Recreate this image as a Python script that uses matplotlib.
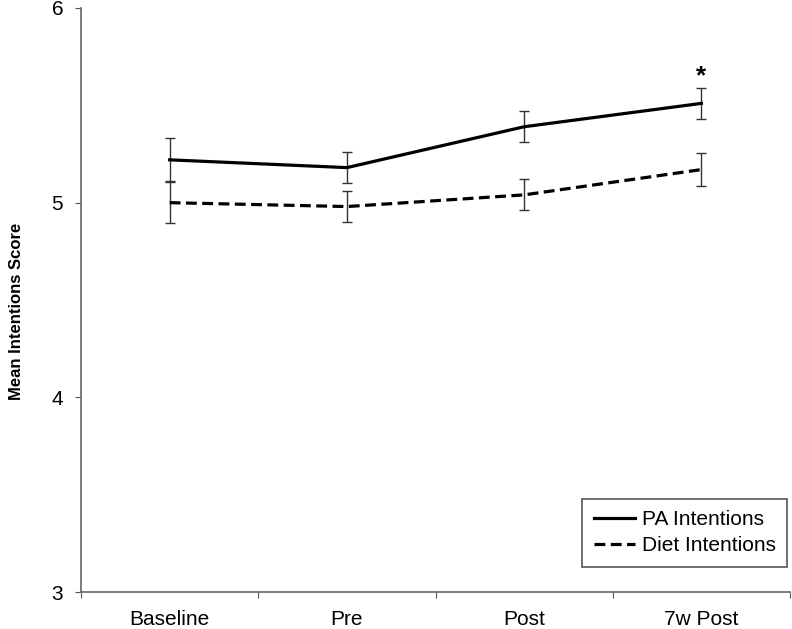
import matplotlib
matplotlib.use("Agg")
import matplotlib.pyplot as plt
from matplotlib.lines import Line2D

plt.rcParams['font.family'] = ['Liberation Sans', 'DejaVu Sans']

categories = ["Baseline", "Pre", "Post", "7w Post"]
pa_mean = [5.22, 5.18, 5.39, 5.51]
pa_err = [0.11, 0.08, 0.08, 0.08]
diet_mean = [5.00, 4.98, 5.04, 5.17]
diet_err = [0.105, 0.08, 0.08, 0.085]

fig = plt.figure(figsize=(7.92, 6.29), dpi=100)
ax = fig.add_axes([0.1023, 0.0588, 0.8952, 0.9285])

dash = (0, (3.4, 1.7))
x = list(range(len(categories)))
ax.errorbar(x, pa_mean, yerr=pa_err, color="black", lw=2.3, ls="-",
            ecolor="#333333", elinewidth=1, capsize=3.4, capthick=1)
ax.errorbar(x, diet_mean, yerr=diet_err, color="black", lw=2.3, ls=dash,
            ecolor="#333333", elinewidth=1, capsize=3.4, capthick=1)

# significance marker above 7w Post
ax.text(3, pa_mean[3] + pa_err[3] + 0.06, "*", ha="center", va="center",
        fontsize=19, fontweight="bold")

ax.set_xlim(-0.5, 3.5)
ax.set_ylim(3, 6)
ax.set_yticks([3, 4, 5, 6])
ax.set_xticks([-0.5, 0.5, 1.5, 2.5, 3.5])
ax.set_xticklabels([])
ax.set_xticks(x, minor=True)
ax.set_xticklabels(categories, minor=True)
ax.tick_params(axis="x", which="minor", length=0, pad=13, labelsize=15)
ax.tick_params(axis="x", which="major", length=4, color="#555555")
ax.tick_params(axis="y", length=4.3, color="#555555", labelsize=15, pad=8.5)

for s in ["top", "right"]:
    ax.spines[s].set_visible(False)
for s in ["left", "bottom"]:
    ax.spines[s].set_color("#666666")
    ax.spines[s].set_linewidth(1.2)

ax.set_ylabel("Mean Intentions Score", fontsize=12, fontweight="bold")
ax.yaxis.set_label_coords(-0.081, 0.481)

handles = [Line2D([], [], color="black", lw=2.3, ls="-"),
           Line2D([], [], color="black", lw=2.3, ls=dash)]
leg = ax.legend(handles, ["PA Intentions", "Diet Intentions"],
                loc="lower right", bbox_to_anchor=(0.996, 0.043), fontsize=15,
                frameon=True, fancybox=False, edgecolor="#555555",
                handlelength=2.0, handletextpad=0.3, borderpad=0.55,
                labelspacing=0.35, borderaxespad=0, framealpha=1)
leg.get_frame().set_linewidth(1.2)

fig.savefig("out.png", dpi=100)
